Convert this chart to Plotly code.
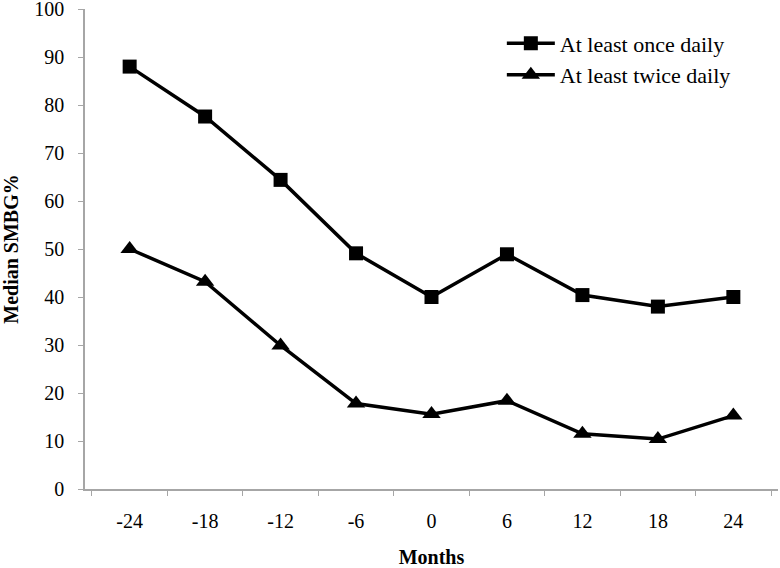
import plotly.graph_objects as go

months = ["-24", "-18", "-12", "-6", "0", "6", "12", "18", "24"]
once_daily = [88, 77.6, 64.4, 49.1, 40.0, 48.9, 40.4, 38.0, 40.0]
twice_daily = [50, 43.2, 29.9, 17.8, 15.6, 18.4, 11.5, 10.4, 15.3]

FONT = "Liberation Serif"

fig = go.Figure()
fig.add_trace(go.Scatter(
    x=months, y=once_daily, mode="lines+markers", name="At least once daily",
    line=dict(color="black", width=3.5),
    marker=dict(symbol="square", size=14, color="black"),
))
fig.add_trace(go.Scatter(
    x=months, y=twice_daily, mode="lines+markers", name="At least twice daily",
    line=dict(color="black", width=3.5),
    marker=dict(symbol="triangle-up", size=16, color="black"),
))

fig.update_layout(
    width=780, height=568,
    margin=dict(l=85, r=2, t=9, b=78.5),
    paper_bgcolor="white", plot_bgcolor="white",
    font=dict(family=FONT, color="black", size=20),
    showlegend=True,
    legend=dict(x=0.6015, y=0.972, xanchor="left", yanchor="top",
                font=dict(family=FONT, size=22), bgcolor="rgba(0,0,0,0)",
                itemwidth=48),
    xaxis=dict(type="category", showgrid=False, showline=True, linecolor="#a6a6a6",
               linewidth=1.5, ticks="outside", tickson="boundaries", ticklen=5,
               tickcolor="#a6a6a6", tickfont=dict(family=FONT, size=20), automargin=False,
               ticklabelstandoff=13,
               title=dict(text="<b>Months</b>", font=dict(family=FONT, size=20), standoff=21)),
    yaxis=dict(range=[0, 100], dtick=10, showgrid=False, showline=True, linecolor="#a6a6a6",
               linewidth=1.5, ticks="outside", ticklen=5, tickcolor="#a6a6a6",
               tickfont=dict(family=FONT, size=20), zeroline=False, automargin=False,
               ticklabeloverflow="allow", ticklabelstandoff=10,
               title=dict(text="<b>Median SMBG%</b>", font=dict(family=FONT, size=20), standoff=23)),
)

fig.write_html("out.html", config={"displayModeBar": False},
               post_script="document.body.style.margin='0';")
